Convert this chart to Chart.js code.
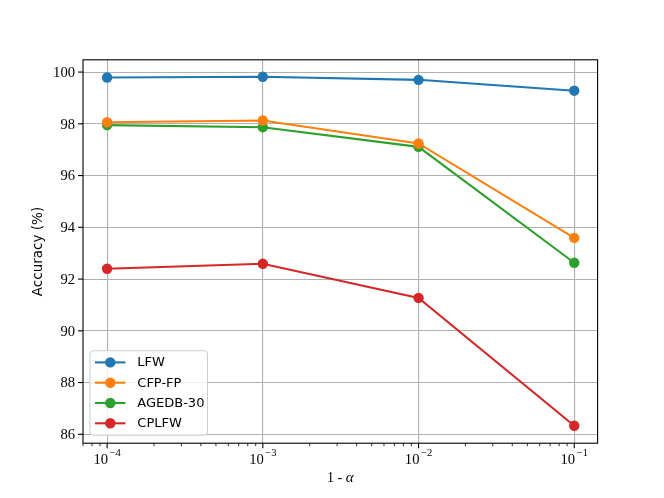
<!DOCTYPE html>
<html>
<head>
<meta charset="utf-8">
<script src="https://cdn.jsdelivr.net/npm/chart.js@4.4.1/dist/chart.umd.min.js"></script>
<style>
html,body{margin:0;padding:0;background:#fff;}
#wrap{width:664px;height:498px;}
</style>
</head>
<body>
<div id="wrap"><canvas id="c" width="664" height="498"></canvas></div>
<script>
// ---- data ----
const alphaValues = [1e-4, 1e-3, 1e-2, 1e-1];
const seriesNames = ['LFW', 'CFP-FP', 'AGEDB-30', 'CPLFW'];
const lfw     = [99.79, 99.82, 99.70, 99.28];
const cfpfp   = [98.06, 98.13, 97.24, 93.59];
const agedb30 = [97.95, 97.87, 97.11, 92.63];
const cplfw   = [92.40, 92.59, 91.27, 86.33];
const yTickValues = [86, 88, 90, 92, 94, 96, 98, 100];
const xTickExponents = [-4, -3, -2, -1];
const xLabel = '1 - ';
const xLabelGreek = 'α';
const yLabel = 'Accuracy (%)';

const colors = ['#1f77b4', '#ff7f0e', '#2ca02c', '#d62728'];
const allSeries = [lfw, cfpfp, agedb30, cplfw];

const datasets = allSeries.map((vals, i) => ({
  label: seriesNames[i],
  data: vals.map((v, j) => ({x: alphaValues[j], y: v})),
  borderColor: colors[i],
  backgroundColor: colors[i],
  borderWidth: 2.1,
  pointRadius: 5.2,
  pointHoverRadius: 5.2,
  pointBorderWidth: 0,
  tension: 0
}));

const majorX = xTickExponents.map(e => Math.pow(10, e));
const minorX = [];
for (let e = -5; e <= 0; e++) {
  for (let m = 2; m <= 9; m++) minorX.push(m * Math.pow(10, e));
}

const SERIF = '"Liberation Serif", "DejaVu Serif", serif';

const mplPlugin = {
  id: 'mpl',
  beforeDraw(chart) {
    const c = chart.ctx;
    c.save();
    c.fillStyle = '#fff';
    c.fillRect(0, 0, chart.width, chart.height);
    c.restore();
  },
  afterDraw(chart) {
    const c = chart.ctx;
    const a = chart.chartArea;
    const xs = chart.scales.x, ys = chart.scales.y;
    c.save();
    // spines
    c.strokeStyle = '#000';
    c.lineWidth = 1.1;
    c.strokeRect(a.left, a.top, a.right - a.left, a.bottom - a.top);
    // y ticks
    c.fillStyle = '#000';
    c.font = '14.6px ' + SERIF;
    c.textAlign = 'right';
    c.textBaseline = 'alphabetic';
    yTickValues.forEach(v => {
      const py = ys.getPixelForValue(v);
      c.beginPath(); c.moveTo(a.left - 5, py); c.lineTo(a.left, py); c.stroke();
      c.fillText(String(v), a.left - 8, py + 4.9);
    });
    // x minor ticks
    c.lineWidth = 0.8;
    minorX.forEach(v => {
      if (v < xs.min || v > xs.max) return;
      const px = xs.getPixelForValue(v);
      c.beginPath(); c.moveTo(px, a.bottom); c.lineTo(px, a.bottom + 3); c.stroke();
    });
    // x major ticks + labels
    c.lineWidth = 1.1;
    xTickExponents.forEach(e => {
      const px = xs.getPixelForValue(Math.pow(10, e));
      c.beginPath(); c.moveTo(px, a.bottom); c.lineTo(px, a.bottom + 5); c.stroke();
      const base = '10', exp = '\u2212' + Math.abs(e);
      c.font = '14.6px ' + SERIF;
      const wb = c.measureText(base).width;
      c.font = '10.6px ' + SERIF;
      const we = c.measureText(exp).width;
      const x0 = px - (wb + we + 1.5) / 2;
      c.textAlign = 'left';
      c.font = '14.6px ' + SERIF;
      c.fillText(base, x0, a.bottom + 21);
      c.font = '10.6px ' + SERIF;
      c.fillText(exp, x0 + wb + 1.5, a.bottom + 12.5);
    });
    // x axis title
    c.font = '14px ' + SERIF;
    const w1 = c.measureText(xLabel).width;
    c.font = 'italic 15px ' + SERIF;
    const w2 = c.measureText(xLabelGreek).width;
    const cx = (a.left + a.right) / 2;
    const tx = cx - (w1 + w2) / 2;
    c.textAlign = 'left';
    c.font = '14px ' + SERIF;
    c.fillText(xLabel, tx, a.bottom + 38.5);
    c.font = 'italic 15px ' + SERIF;
    c.fillText(xLabelGreek, tx + w1, a.bottom + 38.5);
    // y axis title
    c.save();
    c.translate(38, (a.top + a.bottom) / 2);
    c.rotate(-Math.PI / 2);
    c.textAlign = 'center';
    c.textBaseline = 'middle';
    c.font = '13.5px "DejaVu Sans", sans-serif';
    c.fillText(yLabel, 0, 0);
    c.restore();
    // legend
    const lx = a.left + 7, ly = a.bottom - 92.5, lw = 117.5, lh = 84.5;
    c.beginPath();
    if (c.roundRect) c.roundRect(lx, ly, lw, lh, 3.5); else c.rect(lx, ly, lw, lh);
    c.fillStyle = 'rgba(255,255,255,0.8)';
    c.fill();
    c.strokeStyle = '#cccccc';
    c.lineWidth = 1;
    c.stroke();
    c.font = '13px "DejaVu Sans", sans-serif';
    c.textAlign = 'left';
    c.textBaseline = 'middle';
    chart.data.datasets.forEach((ds, i) => {
      const ry = ly + 11.7 + i * 20.3;
      c.strokeStyle = ds.borderColor;
      c.lineWidth = 2.1;
      c.beginPath(); c.moveTo(lx + 5, ry); c.lineTo(lx + 35.5, ry); c.stroke();
      c.fillStyle = ds.backgroundColor;
      c.beginPath(); c.arc(lx + 20.3, ry, 5.2, 0, Math.PI * 2); c.fill();
      c.fillStyle = '#000';
      c.fillText(ds.label, lx + 47.3, ry + 0.5);
    });
    c.restore();
  }
};

new Chart(document.getElementById('c'), {
  type: 'line',
  data: { datasets },
  options: {
    responsive: false,
    animation: false,
    devicePixelRatio: 1,
    layout: { padding: { left: 83, right: 66.4, top: 59.8, bottom: 54.8 } },
    plugins: { legend: { display: false }, tooltip: { enabled: false } },
    scales: {
      x: {
        type: 'logarithmic',
        min: Math.pow(10, -4.15),
        max: Math.pow(10, -0.85),
        afterBuildTicks: s => { s.ticks = majorX.map(v => ({value: v, major: true})); },
        ticks: { display: false },
        grid: { color: '#b0b0b0', lineWidth: 1.1, drawTicks: false, tickLength: 0 },
        border: { display: false },
        title: { display: false }
      },
      y: {
        type: 'linear',
        min: 85.656,
        max: 100.474,
        afterBuildTicks: s => { s.ticks = yTickValues.map(v => ({value: v})); },
        ticks: { display: false },
        grid: { color: '#b0b0b0', lineWidth: 1.1, drawTicks: false, tickLength: 0 },
        border: { display: false },
        title: { display: false }
      }
    }
  },
  plugins: [mplPlugin]
});
</script>
</body>
</html>
